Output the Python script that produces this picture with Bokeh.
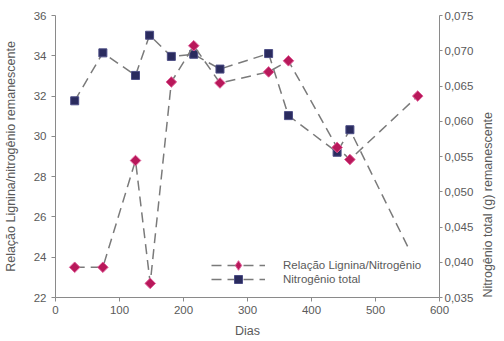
import math
from bokeh.plotting import figure
from bokeh.models import (Range1d, LinearAxis, FixedTicker, CustomJSTickFormatter,
                          Legend, LegendItem)
from bokeh.embed import file_html
from bokeh.resources import INLINE

# ---- data ----
lig_x = [30, 74, 125, 148, 181, 216, 257, 333, 364, 440, 460, 566]
lig_y = [23.5, 23.5, 28.8, 22.7, 32.7, 34.5, 32.65, 33.2, 33.75, 29.45, 28.85, 32.0]

nit_x = [30, 74, 125, 147, 181, 216, 257, 333, 364, 440, 460, 551]
nit_y = [0.0629, 0.0697, 0.0665, 0.0722, 0.0692, 0.0695, 0.0674, 0.0696,
         0.0608, 0.0556, 0.0588, 0.0421]
nit_has_marker = [True] * 11 + [False]

x_ticks = [0, 100, 200, 300, 400, 500, 600]
left_ticks = [22, 24, 26, 28, 30, 32, 34, 36]
right_ticks = [0.035, 0.040, 0.045, 0.050, 0.055, 0.060, 0.065, 0.070, 0.075]

lig_label = "Relação Lignina/Nitrogênio"
nit_label = "Nitrogênio total"
x_title = "Dias"
left_title = "Relação Lignina/nitrogênio remanescente"
right_title = "Nitrogênio total (g) remanescente"

FONT = "Liberation Sans"
TXT = "#5a5a5a"
AX = "#8a8a8a"
LINE = "#7a7a7a"
MAG = "#b8185a"
MAG_EDGE = "#e0609a"
NAVY = "#2a2b5e"
NAVY_EDGE = "#4c4d85"

p = figure(width=504, height=341, output_backend="svg", toolbar_location=None,
           x_range=Range1d(0, 600), y_range=Range1d(22, 36),
           min_border_left=52, min_border_right=62, min_border_top=15,
           min_border_bottom=44, outline_line_color=None)
p.grid.visible = False
p.extra_y_ranges = {"n": Range1d(0.035, 0.075)}

def style(ax):
    ax.axis_line_color = AX
    ax.major_tick_line_color = AX
    ax.minor_tick_line_color = None
    ax.major_tick_out = 4
    ax.major_tick_in = 0
    ax.major_label_text_font = FONT
    ax.major_label_text_font_size = "11.5px"
    ax.major_label_text_color = TXT
    ax.axis_label_text_font = FONT
    ax.axis_label_text_font_size = "12.5px"
    ax.axis_label_text_font_style = "normal"
    ax.axis_label_text_color = TXT

xa = p.xaxis[0]
xa.ticker = FixedTicker(ticks=x_ticks)
xa.axis_label = x_title
xa.major_label_standoff = 4
xa.axis_label_standoff = 7
style(xa)

ya = p.yaxis[0]
ya.ticker = FixedTicker(ticks=left_ticks)
ya.axis_label = left_title
ya.major_label_standoff = 5
ya.axis_label_standoff = 13
style(ya)

ra = LinearAxis(y_range_name="n", ticker=FixedTicker(ticks=right_ticks),
                formatter=CustomJSTickFormatter(code="return tick.toFixed(3).replace('.', ',');"))
style(ra)
ra.major_tick_out = 3
ra.major_label_standoff = 2
p.add_layout(ra, "right")

# title-only axis so that the right title reads bottom-to-top, centred on the frame
rt = LinearAxis(y_range_name="n", ticker=FixedTicker(ticks=[]),
                bounds=(0.0422, 0.075))
style(rt)
rt.axis_line_color = None
rt.major_tick_line_color = None
rt.major_tick_out = 0
rt.major_label_standoff = 0
rt.axis_label = right_title
rt.axis_label_standoff = 11
rt.axis_label_orientation = math.pi / 2
rt.axis_label_align = "start"
p.add_layout(rt, "right")

# nitrogen series
nl = p.line(nit_x, nit_y, y_range_name="n", line_color=LINE, line_width=1.5,
            line_dash="10 6")
mx = [x for x, m in zip(nit_x, nit_has_marker) if m]
my = [y for y, m in zip(nit_y, nit_has_marker) if m]
nm = p.scatter(mx, my, y_range_name="n", marker="square", size=8,
               fill_color=NAVY, line_color=NAVY_EDGE, line_width=1)

# lignin/N series
ll = p.line(lig_x, lig_y, line_color=LINE, line_width=1.5, line_dash="10 6")
# diamond glyph (covered by the rotated squares; used for the legend symbol)
ld = p.scatter(lig_x, lig_y, marker="diamond", size=9,
               fill_color=MAG, line_color=MAG_EDGE, line_width=1)
lm = p.scatter(lig_x, lig_y, marker="square", angle=math.pi / 4, size=7.5,
               fill_color=MAG, line_color=MAG_EDGE, line_width=1)

common = dict(orientation="vertical", background_fill_alpha=0,
              border_line_color=None, glyph_width=54, label_height=12,
              spacing=0, padding=0, margin=0, label_standoff=18,
              label_text_font=FONT, label_text_font_size="11.5px",
              label_text_color=TXT)
leg1 = Legend(items=[LegendItem(label=lig_label, renderers=[ll, ld])],
              location=(156, 20), glyph_height=24, **common)
leg2 = Legend(items=[LegendItem(label=nit_label, renderers=[nl, nm])],
              location=(156, 8), glyph_height=20, **common)
p.add_layout(leg1, "center")
p.add_layout(leg2, "center")

open("out.html", "w").write(file_html(p, INLINE))
